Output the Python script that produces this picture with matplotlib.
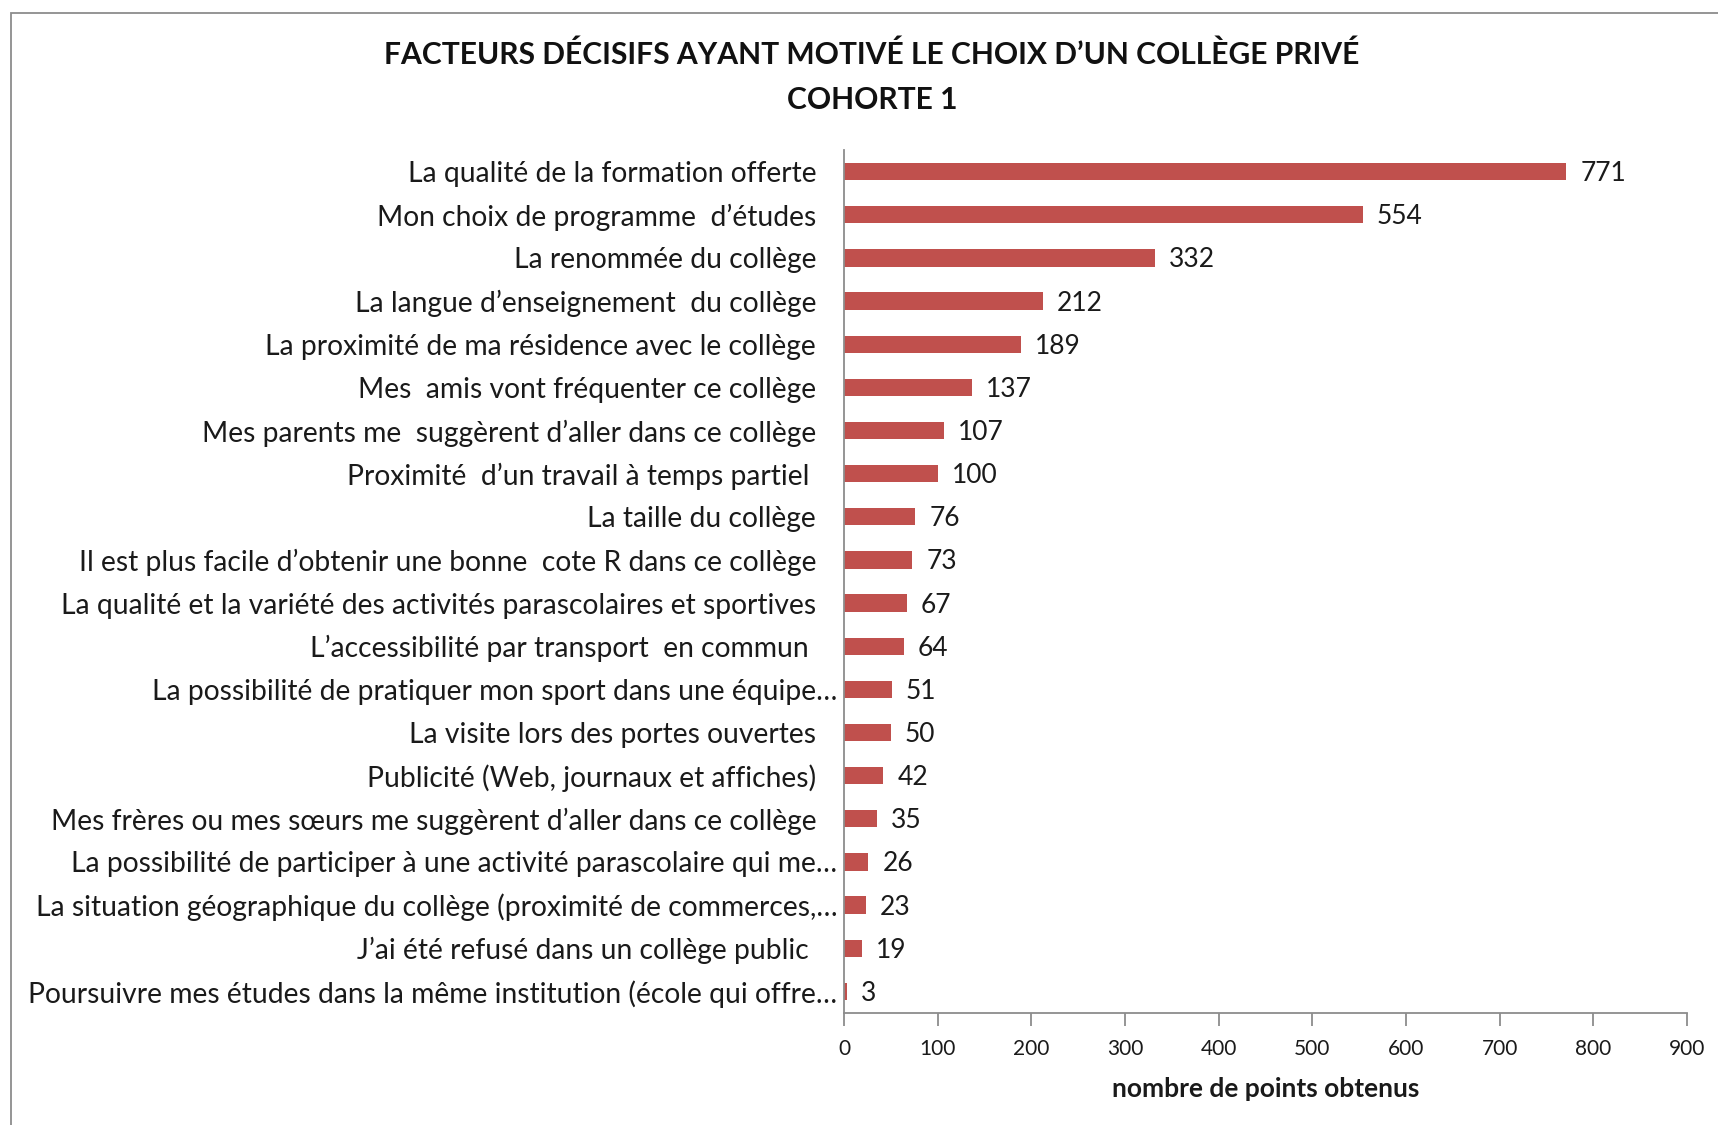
import matplotlib
matplotlib.use("Agg")
import matplotlib.pyplot as plt
from matplotlib.patches import Rectangle
from matplotlib.transforms import ScaledTranslation

families = ['Lato', 'DejaVu Sans']
plt.rcParams['font.family'] = families

categories = [
    "La qualité de la formation offerte",
    "Mon choix de programme  d’études",
    "La renommée du collège",
    "La langue d’enseignement  du collège",
    "La proximité de ma résidence avec le collège",
    "Mes  amis vont fréquenter ce collège",
    "Mes parents me  suggèrent d’aller dans ce collège",
    "Proximité  d’un travail à temps partiel ",
    "La taille du collège",
    "Il est plus facile d’obtenir une bonne  cote R dans ce collège",
    "La qualité et la variété des activités parascolaires et sportives",
    "L’accessibilité par transport  en commun ",
    "La possibilité de pratiquer mon sport dans une équipe…",
    "La visite lors des portes ouvertes",
    "Publicité (Web, journaux et affiches)",
    "Mes frères ou mes sœurs me suggèrent d’aller dans ce collège",
    "La possibilité de participer à une activité parascolaire qui me…",
    "La situation géographique du collège (proximité de commerces,…",
    "J’ai été refusé dans un collège public ",
    "Poursuivre mes études dans la même institution (école qui offre…",
]
values = [771, 554, 332, 212, 189, 137, 107, 100, 76, 73, 67, 64, 51, 50, 42, 35, 26, 23, 19, 3]
xticks = [0, 100, 200, 300, 400, 500, 600, 700, 800, 900]

title = "FACTEURS DÉCISIFS AYANT MOTIVÉ LE CHOIX D’UN COLLÈGE PRIVÉ\nCOHORTE 1"
xlabel = "nombre de points obtenus"

W, H = 1718, 1125
fig = plt.figure(figsize=(W / 100, H / 100), dpi=100)
fig.patch.set_facecolor("white")

# outer chart frame (cut at right/bottom like the reference)
fig.add_artist(Rectangle((11 / W, -0.1), 1.2, 1 - 13 / H + 0.1,
                         transform=fig.transFigure, fill=False,
                         edgecolor="#8c8c8c", linewidth=1.3))

ax_left, ax_right = 844 / W, 1687 / W
ax_top, ax_bot = 1 - 150 / H, 1 - 1013 / H
ax = fig.add_axes([ax_left, ax_bot, ax_right - ax_left, ax_top - ax_bot])

ypos = list(range(len(categories)))
bars = ax.barh(ypos, values, height=0.4, color="#C0504D", edgecolor="none")
ax.set_ylim(len(categories) - 0.5, -0.5)
ax.set_xlim(0, 900)
ax.set_xticks(xticks)
ax.set_yticks(ypos)
ax.set_yticklabels(categories, fontsize=20.3, color="#1a1a1a")

for b, v in zip(bars, values):
    ax.annotate(str(v), (b.get_width(), b.get_y() + b.get_height() / 2),
                xytext=(14, -2), textcoords="offset pixels",
                va="center", ha="left", fontsize=19, color="#1a1a1a")

for s in ["top", "right"]:
    ax.spines[s].set_visible(False)
for s in ["left", "bottom"]:
    ax.spines[s].set_color("#8c8c8c")
    ax.spines[s].set_linewidth(1.3)

ax.tick_params(axis="y", length=0, pad=20)
ax.tick_params(axis="x", length=9, width=1.3, color="#8c8c8c",
               labelsize=15, pad=10, labelcolor="#1a1a1a")

# truncated labels extend closer to the axis
for lab in ax.get_yticklabels():
    if lab.get_text().endswith("…"):
        lab.set_transform(lab.get_transform() + ScaledTranslation(0.21, 0, fig.dpi_scale_trans))

ax.set_xlabel(xlabel, fontsize=19, fontweight="bold", labelpad=13, color="#1a1a1a")

fig.text(0.5076, 1 - 77 / H, title, ha="center", va="center", fontsize=21.6,
         fontweight="bold", linespacing=1.72, color="#111111")

fig.savefig("out.png", dpi=100, facecolor="white")
